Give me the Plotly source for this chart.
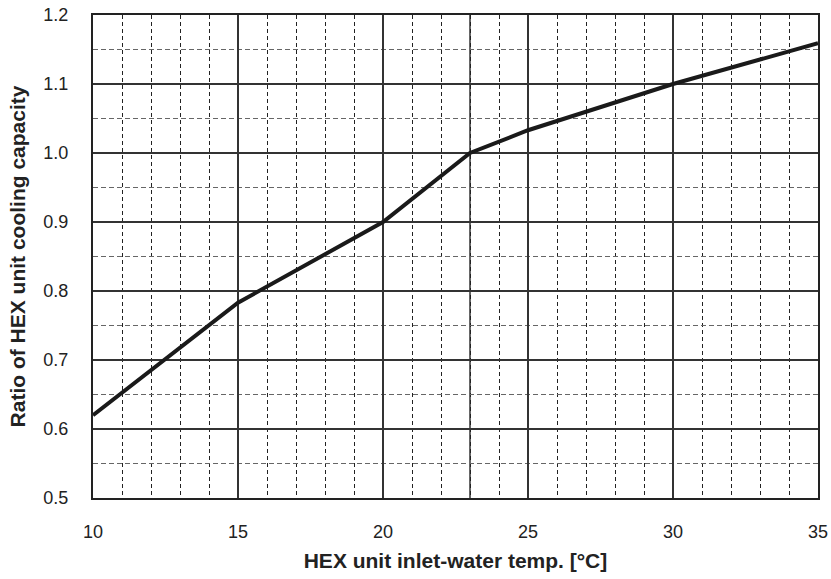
import plotly.graph_objects as go

temp_c = [10, 15, 20, 23, 25, 30, 35]
capacity_ratio = [0.62, 0.783, 0.90, 1.00, 1.033, 1.10, 1.159]
x_tick_vals = [10, 15, 20, 25, 30, 35]
y_tick_vals = [0.5, 0.6, 0.7, 0.8, 0.9, 1.0, 1.1, 1.2]
y_tick_text = ["0.5", "0.6", "0.7", "0.8", "0.9", "1.0", "1.1", "1.2"]
extra_major_x = [23]

FONT = "Liberation Sans, Arial, sans-serif"

fig = go.Figure()
fig.add_trace(go.Scatter(x=temp_c, y=capacity_ratio, mode="lines",
                         line=dict(color="#1a1a1a", width=4), showlegend=False))

for xv in extra_major_x:
    fig.add_shape(type="line", xref="x", yref="paper", x0=xv, x1=xv, y0=0, y1=1,
                  line=dict(color="#333333", width=1.5), layer="below")

fig.update_layout(
    width=831, height=579,
    margin=dict(l=93, r=13, t=15, b=81),
    paper_bgcolor="white", plot_bgcolor="white",
    font=dict(family=FONT, color="#222222", size=18),
    xaxis=dict(
        range=[10, 35], tickvals=x_tick_vals, showgrid=True, automargin=False,
        gridcolor="#333333", gridwidth=1.5,
        minor=dict(dtick=1, showgrid=True, griddash="4px,3px", gridcolor="#222222", gridwidth=1),
        showline=True, linecolor="#222222", linewidth=2, mirror=True,
        zeroline=False, ticks="", ticklabelstandoff=16,
        title=dict(text="<b>HEX unit inlet-water temp. [°C]</b>", font=dict(size=21, color="#222222"), standoff=13),
        tickfont=dict(size=18),
    ),
    yaxis=dict(
        range=[0.5, 1.2], tickvals=y_tick_vals, ticktext=y_tick_text, showgrid=True, automargin=False,
        gridcolor="#333333", gridwidth=1.5,
        minor=dict(dtick=0.05, showgrid=True, griddash="5px,3px", gridcolor="#666666", gridwidth=1),
        showline=True, linecolor="#222222", linewidth=2, mirror=True,
        zeroline=False, ticks="", ticklabelstandoff=19,
        title=dict(text="<b>Ratio of HEX unit cooling capacity</b>", font=dict(size=21, color="#222222"), standoff=12),
        tickfont=dict(size=18),
    ),
)

fig.write_html("out.html", config={"displayModeBar": False},
               post_script="document.body.style.margin='0';")
